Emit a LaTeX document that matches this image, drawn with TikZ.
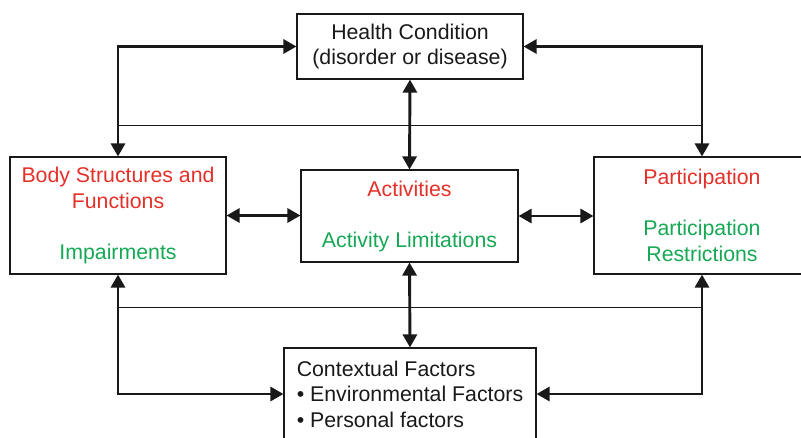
\documentclass[tikz,border=0pt]{standalone}
\usepackage{fontspec}
\setmainfont{Liberation Sans}
\usetikzlibrary{arrows.meta}
\definecolor{icfred}{RGB}{228,48,40}
\definecolor{icfgreen}{RGB}{22,168,84}
\definecolor{ink}{RGB}{25,25,25}
\begin{document}
\begin{tikzpicture}[x=1pt,y=-1pt,
  box/.style={draw=ink, line width=1.1pt, inner sep=0pt, font=\fontsize{21.3}{25.5}\selectfont, align=center, text=ink},
  link/.style={line width=2.9pt, draw=ink, {Triangle[length=13pt,width=14pt]}-{Triangle[length=13pt,width=14pt]}},
  thinline/.style={line width=1pt, draw=ink}]
\useasboundingbox (0,0) rectangle (801,437);
\clip (0,0) rectangle (801,437);
\node[box, minimum width=226pt, minimum height=65pt] (hc) at (410,46.5) {Health Condition\\(disorder or disease)};
\node[box, minimum width=216pt, minimum height=117pt] (body) at (118,215.5) {\textcolor{icfred}{Body Structures and}\\\textcolor{icfred}{Functions}\\[25.5pt]\textcolor{icfgreen}{Impairments}};
\node[box, minimum width=217pt, minimum height=92pt] (act) at (409.5,216) {\textcolor{icfred}{Activities}\\[25.5pt]\textcolor{icfgreen}{Activity Limitations}};
\node[box, minimum width=216pt, minimum height=117pt] (part) at (702,215.5) {\textcolor{icfred}{Participation}\\[25.5pt]\textcolor{icfgreen}{Participation}\\\textcolor{icfgreen}{Restrictions}};
\node[box, minimum width=252pt, minimum height=92pt, align=left] (ctx) at (410,394) {Contextual Factors\\• Environmental Factors\\• Personal factors};
\coordinate (tl) at (118,125);
\coordinate (tr) at (702,125);
\coordinate (bl) at (118,307);
\coordinate (br) at (702,307);
\draw[thinline] (tl) -- (tr);
\draw[thinline] (bl) -- (br);
\draw[link] (hc.west) -| (body.north);
\draw[link] (hc.east) -| (part.north);
\draw[link] (hc.south) -- (act.north);
\draw[link] (body.east) -- (body.east -| act.west);
\draw[link] (act.east) -- (act.east -| part.west);
\draw[link] (act.south) -- (ctx.north);
\draw[link] (body.south) |- (ctx.west);
\draw[link] (part.south) |- (ctx.east);
\end{tikzpicture}
\end{document}
